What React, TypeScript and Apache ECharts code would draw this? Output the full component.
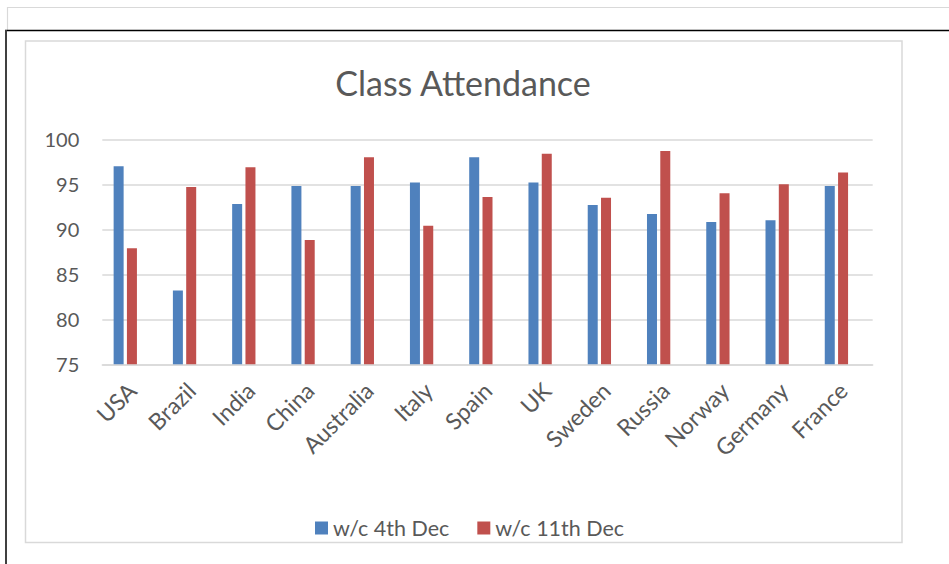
import React, { useEffect, useRef } from "react";
import * as echarts from "echarts";

const categories = ["USA", "Brazil", "India", "China", "Australia", "Italy", "Spain", "UK", "Sweden", "Russia", "Norway", "Germany", "France"];
const week4Dec = [97.0, 83.2, 92.8, 94.8, 94.8, 95.2, 98.0, 95.2, 92.7, 91.7, 90.8, 91.0, 94.8];
const week11Dec = [87.9, 94.7, 96.9, 88.8, 98.0, 90.4, 93.6, 98.4, 93.5, 98.7, 94.0, 95.0, 96.3];
const seriesNames = ["w/c 4th Dec", "w/c 11th Dec"];
const titleText = "Class Attendance";

const FONT = "Lato, 'Open Sans', sans-serif";
const TEXT = "#595959";

export default function App() {
  const ref = useRef<HTMLDivElement>(null);
  useEffect(() => {
    if (!ref.current) return;
    const chart = echarts.init(ref.current, undefined, { renderer: "svg" });
    chart.setOption({
      animation: false,
      backgroundColor: "#ffffff",
      title: {
        text: titleText,
        left: 458,
        textAlign: "center",
        top: 60,
        textStyle: { fontFamily: FONT, fontSize: 34, fontWeight: "normal", color: TEXT },
      },
      legend: {
        data: seriesNames,
        left: 310,
        top: 512,
        itemWidth: 13,
        itemHeight: 13,
        itemGap: 28,
        icon: "rect",
        textStyle: { fontFamily: FONT, fontSize: 21.5, color: TEXT },
      },
      grid: { left: 102.3, right: 76.3, top: 139.3, bottom: 199.7, containLabel: false },
      xAxis: {
        type: "category",
        data: categories,
        axisLine: { show: true, lineStyle: { color: "#D9D9D9", width: 1.5 } },
        axisTick: { show: false },
        axisLabel: { rotate: 45, fontFamily: FONT, fontSize: 23, color: TEXT, margin: 22, interval: 0 },
      },
      yAxis: {
        type: "value",
        min: 75,
        max: 100,
        interval: 5,
        axisLine: { show: false },
        axisTick: { show: false },
        axisLabel: { fontFamily: FONT, fontSize: 20, color: TEXT, margin: 23 },
        splitLine: { lineStyle: { color: "#D9D9D9", width: 1.5 } },
      },
      series: [
        { name: seriesNames[0], type: "bar", data: week4Dec, barWidth: 10, barGap: "33%", itemStyle: { color: "#4F81BD" } },
        { name: seriesNames[1], type: "bar", data: week11Dec, barWidth: 10, barGap: "33%", itemStyle: { color: "#C0504D" } },
        { name: "spacer", type: "bar", data: categories.map(() => "-"), barWidth: 10, barGap: "33%", itemStyle: { color: "transparent" } },
      ],
      graphic: [
        { type: "line", silent: true, shape: { x1: 7, y1: 7.5, x2: 949, y2: 7.5 }, style: { stroke: "#D9D9D9", lineWidth: 1.2 } },
        { type: "line", silent: true, shape: { x1: 7.5, y1: 7, x2: 7.5, y2: 30 }, style: { stroke: "#D9D9D9", lineWidth: 1.2 } },
        { type: "line", silent: true, shape: { x1: 5, y1: 30.5, x2: 949, y2: 30.5 }, style: { stroke: "#000000", lineWidth: 1.4 } },
        { type: "rect", silent: true, shape: { x: 5, y: 30, width: 2, height: 534 }, style: { fill: "#404040" } },
        { type: "rect", silent: true, shape: { x: 25.5, y: 41, width: 876.5, height: 501.5 }, style: { fill: "none", stroke: "#D9D9D9", lineWidth: 1.5 } },
      ],
    });
    return () => chart.dispose();
  }, []);
  return <div ref={ref} style={{ position: "fixed", left: 0, top: 0, width: 949, height: 564 }} />;
}
